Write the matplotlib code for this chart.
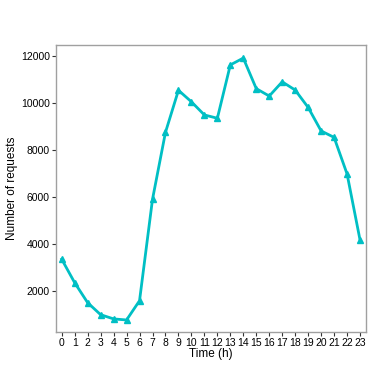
import matplotlib
matplotlib.use("Agg")
import matplotlib.pyplot as plt

hours = list(range(24))
requests = [3340, 2340, 1490, 980, 800, 755, 1575, 5890, 8740, 10530,
            10040, 9480, 9340, 11610, 11900, 10600, 10285, 10890, 10540, 9800,
            8800, 8525, 6970, 4160]
yticks = [2000, 4000, 6000, 8000, 10000, 12000]

plt.rcParams['font.family'] = ['Liberation Sans', 'DejaVu Sans']

fig = plt.figure(figsize=(3.74, 3.74), dpi=100)
ax = fig.add_axes([56/374, 42/374, 310/374, 287.3/374])

ax.plot(hours, requests, color='#00BFC4', linewidth=2, marker='^', markersize=5)

ax.set_xlim(-0.44, 23.46)
ax.set_ylim(243, 12470)
ax.set_xticks(hours)
ax.set_yticks(yticks)
ax.tick_params(labelsize=7.5, length=3, width=0.8, color='#333333', pad=1.5)
for s in ax.spines.values():
    s.set_color('#a0a0a0')
    s.set_linewidth(1)

ax.set_xlabel("Time (h)", fontsize=8.5, labelpad=0)
ax.set_ylabel("Number of requests", fontsize=8.5, labelpad=2)

fig.savefig("out.png", dpi=100)
